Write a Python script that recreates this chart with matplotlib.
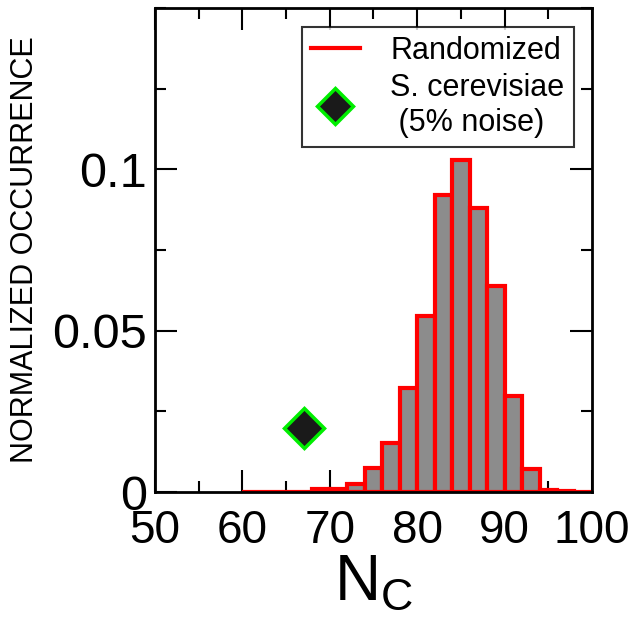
import matplotlib
matplotlib.use("Agg")
import matplotlib.pyplot as plt
from matplotlib.lines import Line2D
from matplotlib.ticker import MultipleLocator

# histogram of N_C for randomized networks (bin left edges, width 2)
bin_left = [60, 62, 64, 66, 68, 70, 72, 74, 76, 78, 80, 82, 84, 86, 88, 90, 92, 94, 96, 98]
occurrence = [0.0001, 0.0001, 0.0001, 0.0001, 0.0008, 0.0008, 0.0025, 0.0074, 0.0153, 0.0324,
              0.0546, 0.0922, 0.1030, 0.0882, 0.0639, 0.0299, 0.0072, 0.0007, 0.0002, 0.0001]

# real network point
real_nc = [67]
real_occ = [0.02]

plt.rcParams['font.family'] = ['Liberation Sans', 'DejaVu Sans']

fig = plt.figure(figsize=(6.37, 6.30), dpi=100)
ax = fig.add_axes([0.2433, 0.219, 0.6860, 0.768])

ax.bar(bin_left, occurrence, width=2, align='edge', color='#8c8c8c',
       edgecolor='red', linewidth=3, zorder=2)
ax.plot(real_nc, real_occ, 'D', ms=20, mfc='#1a1a1a', mec='#00ee00', mew=2.5, zorder=3)

ax.set_xlim(50, 100)
ax.set_ylim(0, 0.15)
ax.xaxis.set_major_locator(MultipleLocator(10))
ax.xaxis.set_minor_locator(MultipleLocator(5))
ax.yaxis.set_major_locator(MultipleLocator(0.05))
ax.yaxis.set_minor_locator(MultipleLocator(0.025))
ax.set_yticks([0, 0.05, 0.1])
ax.set_yticklabels(['0', '0.05', '0.1'])

ax.tick_params(which='both', direction='in', top=True, right=True, width=1.5, zorder=5)
ax.tick_params(which='major', length=16)
ax.tick_params(which='minor', length=8)
ax.tick_params(axis='x', which='major', pad=12, labelsize=33)
ax.tick_params(axis='y', which='major', pad=6, labelsize=35)
for sp in ax.spines.values():
    sp.set_linewidth(2)
    sp.set_zorder(5)

ax.set_xlabel('N$_\\mathregular{C}$', fontsize=46, labelpad=0)
ax.set_ylabel('NORMALIZED OCCURRENCE', fontsize=22)
ax.yaxis.set_label_coords(-0.262, 0.50)

handles = [Line2D([], [], color='red', lw=3),
           Line2D([], [], ls='none', marker='D', ms=18, mfc='#1a1a1a', mec='#00ee00', mew=2.5)]
leg = ax.legend(handles, ['Randomized', 'S. cerevisiae\n (5% noise)'], loc='upper right',
                fontsize=22, frameon=True, fancybox=False, edgecolor='black',
                borderaxespad=0.6, handlelength=1.6, handletextpad=1.0, labelspacing=0.25,
                borderpad=0.3)
leg.get_frame().set_linewidth(1.5)

fig.savefig('out.png', dpi=100)
